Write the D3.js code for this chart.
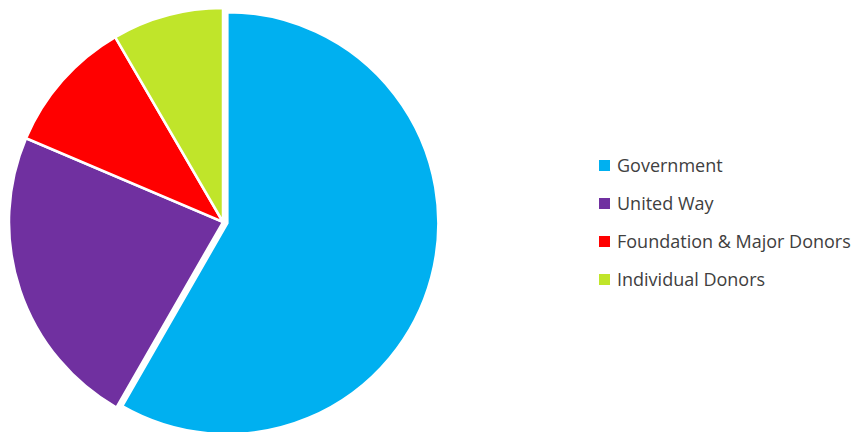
<!DOCTYPE html>
<html>
<head>
<meta charset="utf-8">
<script src="https://cdn.jsdelivr.net/npm/d3@7"></script>
<style>
  body { margin: 0; background: #fff; }
  svg { display: block; }
</style>
</head>
<body>
<div class="chart"></div>
<script>
const categories = ['Government', 'United Way', 'Foundation & Major Donors', 'Individual Donors'];
const values = [58.3, 23.1, 10.2, 8.4];
const colors = ['#00B0F0', '#7030A0', '#FF0000', '#C0E52A'];
const exploded = [true, false, false, false];

const width = 855;
const height = 432;
const cx = 223, cy = 222, radius = 214;
// the exploded slice is drawn a little smaller, like the spreadsheet does
const explodedRadius = 211;
const explode = 4.5;

const svg = d3.select('.chart').append('svg')
  .attr('width', width)
  .attr('height', height);

const pie = d3.pie().sort(null).value(d => d.value);
const arc = d3.arc().innerRadius(0).outerRadius(d => d.data.out ? explodedRadius : radius);

const data = categories.map((c, i) => ({ name: c, value: values[i], color: colors[i], out: exploded[i] }));

const plot = svg.append('g').attr('transform', `translate(${cx},${cy})`);

plot.selectAll('path').data(pie(data))
  .enter().append('path')
    .attr('d', arc)
    .attr('fill', d => d.data.color)
    .attr('stroke', '#fff')
    .attr('stroke-width', 2.5)
    .attr('stroke-linejoin', 'miter')
    .attr('transform', d => {
      if (!d.data.out) return null;
      const a = (d.startAngle + d.endAngle) / 2;
      return `translate(${explode * Math.sin(a)},${-explode * Math.cos(a)})`;
    });

// legend
const legend = svg.append('g').attr('transform', 'translate(599,160)');
const rows = legend.selectAll('g').data(data)
  .enter().append('g')
    .attr('transform', (d, i) => `translate(0,${i * 38})`);

rows.append('rect')
  .attr('width', 11).attr('height', 11)
  .attr('fill', d => d.color);

rows.append('text')
  .attr('x', 18).attr('y', 12)
  .attr('font-family', 'Open Sans, sans-serif')
  .attr('font-size', 18)
  .attr('fill', '#404040')
  .text(d => d.name);
</script>
</body>
</html>
